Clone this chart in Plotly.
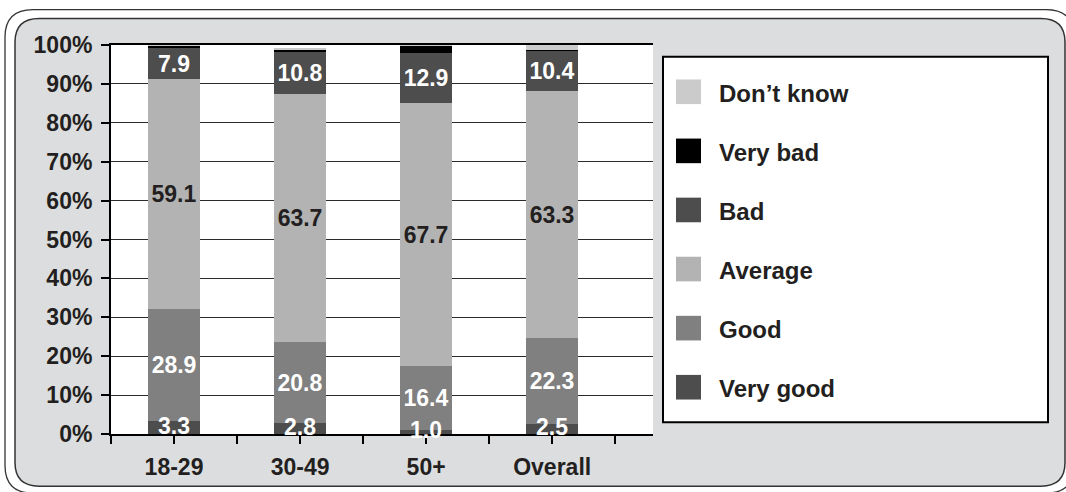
import plotly.graph_objects as go

# Survey rating by age group (percent of respondents)
groups = ["18-29", "30-49", "50+", "Overall"]
very_good = [3.3, 2.8, 1.0, 2.5]
good = [28.9, 20.8, 16.4, 22.3]
average = [59.1, 63.7, 67.7, 63.3]
bad = [7.9, 10.8, 12.9, 10.4]
very_bad = [0.6, 0.7, 1.8, 0.3]
dont_know = [0.2, 0.4, 0.2, 1.2]

y_ticks = [0, 10, 20, 30, 40, 50, 60, 70, 80, 90, 100]

# (name, values, fill colour, label colour or None for unlabeled)
series = [
    ("Very good", very_good, "#4d4d4d", "#ffffff"),
    ("Good", good, "#808080", "#ffffff"),
    ("Average", average, "#b3b3b3", "#231f20"),
    ("Bad", bad, "#4d4d4d", "#ffffff"),
    ("Very bad", very_bad, "#000000", None),
    ("Don\u2019t know", dont_know, "#cbcbcb", None),
]

FONT = "Liberation Sans, Arial, Helvetica, sans-serif"
INK = "#231f20"
W, H = 1066, 492
L, R, T, B = 111, 653, 45, 440   # plot area in pixels

x_pos = list(range(len(groups)))

fig = go.Figure()
annotations = []
for idx, (name, vals, color, label_color) in enumerate(series):
    kw = {}
    if label_color and idx > 0:
        kw = dict(
            text=[f"{v:.1f}" for v in vals],
            textposition="inside",
            insidetextanchor="middle",
            constraintext="none",
            textangle=0,
            textfont=dict(family=FONT, size=23, color=label_color, weight="bold"),
        )
    elif label_color:
        # thin bottom segments: labels sit on the baseline as annotations
        for xi, v in zip(x_pos, vals):
            annotations.append(dict(
                x=xi, y=v / 2, xref="x", yref="y", yanchor="middle",
                yshift=2, text=f"{v:.1f}", showarrow=False,
                font=dict(family=FONT, size=23, color=label_color, weight="bold"),
            ))
    fig.add_trace(go.Bar(
        x=x_pos, y=vals, name=name, width=0.41,
        marker=dict(color=color, line=dict(width=0)),
        hoverinfo="skip", showlegend=False, cliponaxis=False, **kw,
    ))


def px_x(p):
    return (p - L) / (R - L)


def px_y(p):
    return (B - p) / (B - T)


def rounded(x0, y0, x1, y1, r):
    """Rounded rectangle path in paper units from pixel corners."""
    ax0, ax1 = px_x(x0), px_x(x1)
    ay0, ay1 = px_y(y0), px_y(y1)
    rx = r / (R - L)
    ry = r / (B - T)
    return (
        f"M{ax0 + rx},{ay0} L{ax1 - rx},{ay0} Q{ax1},{ay0} {ax1},{ay0 - ry} "
        f"L{ax1},{ay1 + ry} Q{ax1},{ay1} {ax1 - rx},{ay1} "
        f"L{ax0 + rx},{ay1} Q{ax0},{ay1} {ax0},{ay1 + ry} "
        f"L{ax0},{ay0 - ry} Q{ax0},{ay0} {ax0 + rx},{ay0} Z"
    )


shapes = [
    # outer frame line
    dict(type="path", xref="paper", yref="paper", layer="below",
         path=rounded(5, 9, 1074, 500, 28),
         line=dict(color="#333333", width=1.3), fillcolor="rgba(0,0,0,0)"),
    # grey chart panel
    dict(type="path", xref="paper", yref="paper", layer="below",
         path=rounded(15, 18, 1065, 493, 24),
         line=dict(color="#333333", width=1.5), fillcolor="#dcdddf"),
    # white plotting area
    dict(type="rect", xref="paper", yref="paper", layer="below",
         x0=0, x1=1, y0=0, y1=1, line=dict(width=0), fillcolor="#ffffff"),
    # legend box
    dict(type="rect", xref="paper", yref="paper", layer="below",
         x0=px_x(663), x1=px_x(1048), y0=px_y(428), y1=px_y(57),
         line=dict(color="#000000", width=2), fillcolor="#ffffff"),
]

legend_order = list(reversed(series))
for i, (name, vals, color, _) in enumerate(legend_order):
    cy = 92.5 + 60 * i
    shapes.append(dict(
        type="rect", xref="paper", yref="paper",
        x0=px_x(676), x1=px_x(701), y0=px_y(cy + 12.5), y1=px_y(cy - 12.5),
        line=dict(width=0), fillcolor=color,
    ))
    annotations.append(dict(
        xref="paper", yref="paper", x=px_x(717), y=px_y(cy + 1.5),
        xanchor="left", yanchor="middle", text=name, showarrow=False,
        font=dict(family=FONT, size=24, color=INK, weight="bold"),
    ))

fig.update_layout(
    width=W, height=H,
    margin=dict(l=L, r=W - R, t=T, b=H - B, pad=0),
    paper_bgcolor="#ffffff", plot_bgcolor="#ffffff",
    barmode="stack", bargap=0,
    shapes=shapes, annotations=annotations,
    showlegend=False,
    font=dict(family=FONT, color=INK),
)

fig.update_xaxes(
    range=[-0.5, 3.8],
    tickvals=x_pos, ticktext=groups,
    ticks="outside", ticklen=8, tickwidth=2, tickcolor="#000000",
    minor=dict(tickvals=[-0.5, 0.5, 1.5, 2.5, 3.5], ticks="outside",
               ticklen=8, tickwidth=2, tickcolor="#000000", showgrid=False),
    showline=True, linecolor="#000000", linewidth=2, mirror=True,
    showgrid=False, zeroline=False,
    tickfont=dict(family=FONT, size=23, color=INK, weight="bold"),
    ticklabelstandoff=3,
)

fig.update_yaxes(
    range=[0, 100],
    tickvals=y_ticks, ticktext=[f"{v}%" for v in y_ticks],
    ticks="outside", ticklen=8, tickwidth=2, tickcolor="#000000",
    showline=True, linecolor="#000000", linewidth=2,
    showgrid=True, gridcolor="#2b2b2b", gridwidth=1,
    zeroline=False,
    tickfont=dict(family=FONT, size=23, color=INK, weight="bold"),
    ticklabelstandoff=4,
)

fig.write_html("out.html")
